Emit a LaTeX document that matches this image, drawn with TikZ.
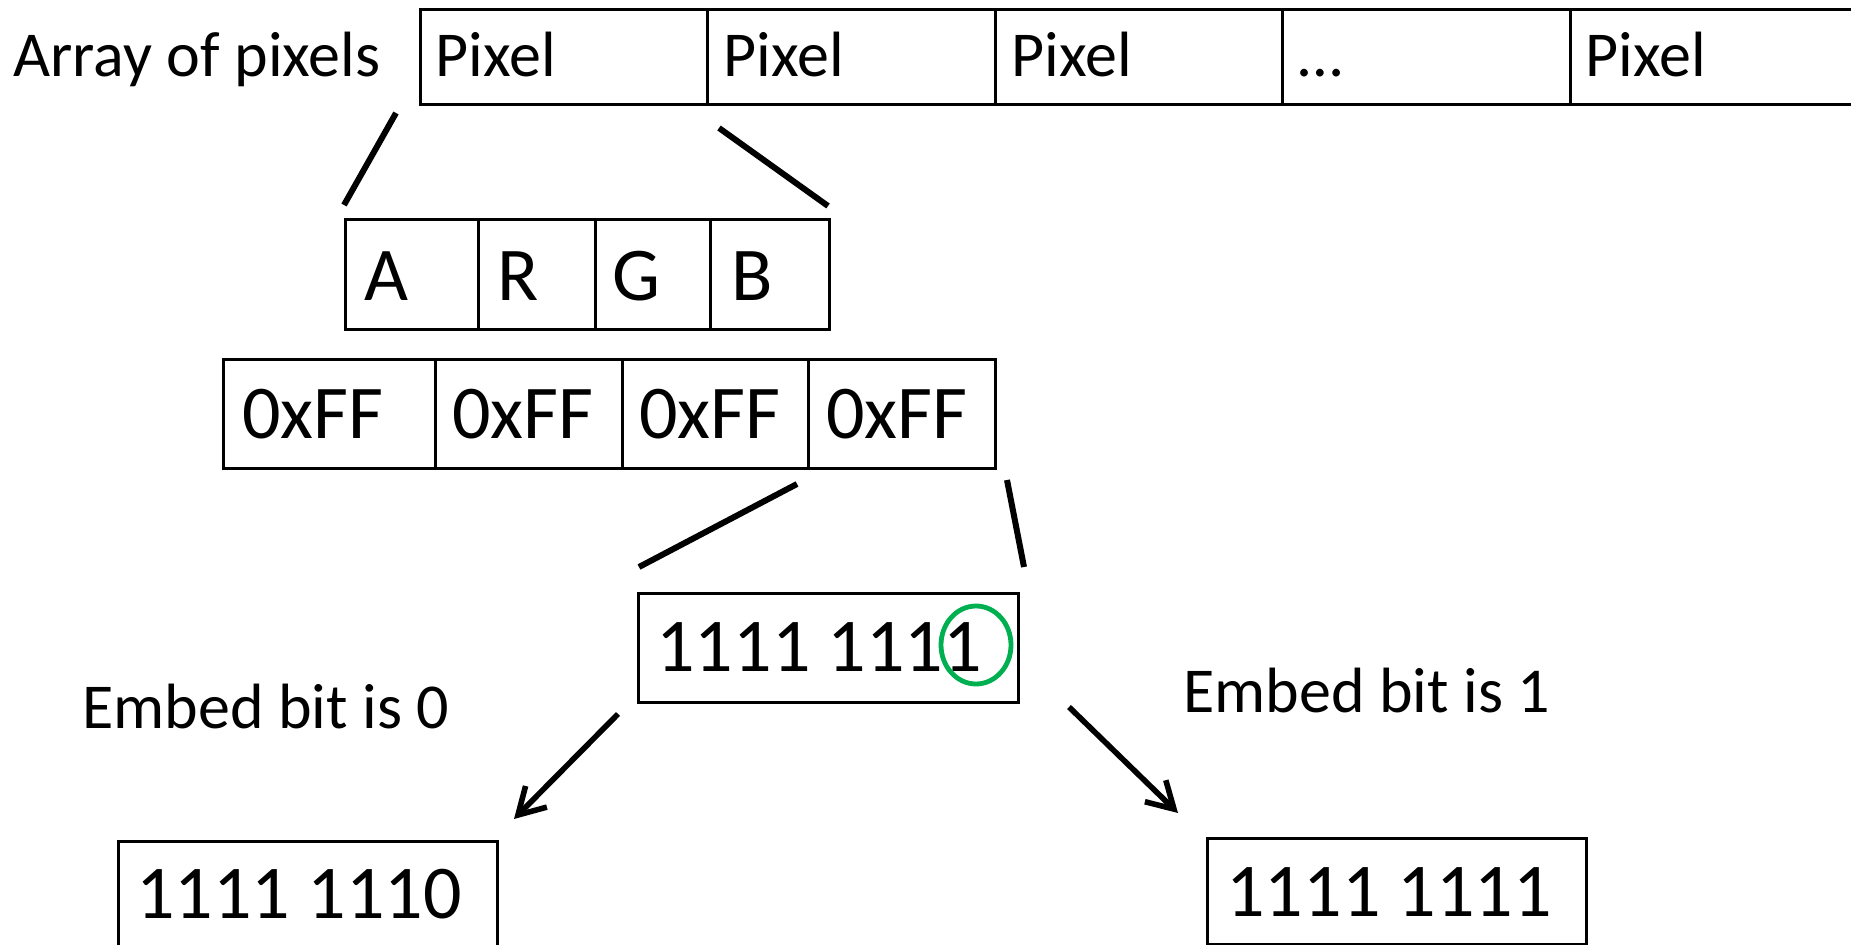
\documentclass[tikz,border=0pt]{standalone}
\usepackage{fontspec}
\setmainfont{Carlito}
\usetikzlibrary{arrows.meta,shapes.geometric}
\definecolor{ringgreen}{HTML}{00B050}
\begin{document}
\begin{tikzpicture}[x=0.5pt,y=-0.5pt,
  cell/.style={draw, line width=1.5pt, inner sep=0pt, anchor=north west},
  small/.style={font=\fontsize{32pt}{32pt}\selectfont, inner sep=0pt, anchor=base west},
  big/.style={font=\fontsize{38pt}{38pt}\selectfont, inner sep=0pt, anchor=base west},
  link/.style={line width=3pt},
  arr/.style={line width=2.8pt, -{Straight Barb[length=13pt,width=15pt,line width=2.8pt]}},
  ring/.style={draw=ringgreen, line width=2.4pt, ellipse, inner sep=0pt}
]
\useasboundingbox (0,0) rectangle (1851,945);
\fill[white] (0,0) rectangle (1851,945);
\clip (0,0) rectangle (1851,945);

% top row
\node[small] (arr) at (13,77) {Array of pixels};
\node[cell, minimum width=143.5pt, minimum height=47.5pt] (p1) at (419,8) {};
\node[cell, minimum width=144pt, minimum height=47.5pt] (p2) at (706,8) {};
\node[cell, minimum width=143.5pt, minimum height=47.5pt] (p3) at (994,8) {};
\node[cell, minimum width=144pt, minimum height=47.5pt] (p4) at (1281,8) {};
\node[cell, minimum width=146pt, minimum height=47.5pt] (p5) at (1569,8) {};
\node[small] (t1) at (435,77) {Pixel};
\node[small] (t2) at (723,77) {Pixel};
\node[small] (t3) at (1011,77) {Pixel};
\node[small] (t4) at (1298,77) {…};
\node[small] (t5) at (1585,77) {Pixel};

% ARGB
\node[cell, minimum width=66.5pt, minimum height=55pt] (ca) at (344,218) {};
\node[cell, minimum width=58.5pt, minimum height=55pt] (cr) at (477,218) {};
\node[cell, minimum width=57.5pt, minimum height=55pt] (cg) at (594,218) {};
\node[cell, minimum width=59.5pt, minimum height=55pt] (cb) at (709,218) {};
\node[big] (la) at (364,301) {A};
\node[big] (lr) at (497,301) {R};
\node[big] (lg) at (612,301) {G};
\node[big] (lb) at (731,301) {B};

% 0xFF row
\node[cell, minimum width=106pt, minimum height=54.5pt] (h1) at (222,358) {};
\node[cell, minimum width=93.5pt, minimum height=54.5pt] (h2) at (434,358) {};
\node[cell, minimum width=93pt, minimum height=54.5pt] (h3) at (621,358) {};
\node[cell, minimum width=93.5pt, minimum height=54.5pt] (h4) at (807,358) {};
\node[big] (x1) at (242,439) {0xFF};
\node[big] (x2) at (452,439) {0xFF};
\node[big] (x3) at (639,439) {0xFF};
\node[big] (x4) at (826,439) {0xFF};

% byte
\node[cell, minimum width=190pt, minimum height=54.5pt] (byte) at (637,592) {};
\node[big] (bt) at (656,671) {1111 1111};
\node[ring, minimum width=35pt, minimum height=39pt] (ring) at (976,645) {};

% labels
\node[small] (e0) at (82,728) {Embed bit is 0};
\node[small] (e1) at (1183,712) {Embed bit is 1};

% results
\node[cell, minimum width=189.5pt, minimum height=60pt] (r0) at (117,840) {};
\node[cell, minimum width=189.5pt, minimum height=53pt] (r1) at (1206,837) {};
\node[big] (r0t) at (136,918) {1111 1110};
\node[big] (r1t) at (1226,916) {1111 1111};

% connector end points
\coordinate (a1) at (396,113);
\coordinate (a2) at (344,205);
\coordinate (b1) at (719,128);
\coordinate (b2) at (828,206);
\coordinate (c1) at (797,484);
\coordinate (c2) at (639,567);
\coordinate (d1) at (1007,480);
\coordinate (d2) at (1024,567);
\coordinate (e1s) at (618,714);
\coordinate (e1e) at (514,819);
\coordinate (f1s) at (1069,707);
\coordinate (f1e) at (1178,813);

\draw[link] (a1) -- (a2);
\draw[link] (b1) -- (b2);
\draw[link] (c1) -- (c2);
\draw[link] (d1) -- (d2);
\draw[arr] (e1s) -- (e1e);
\draw[arr] (f1s) -- (f1e);
\end{tikzpicture}
\end{document}
